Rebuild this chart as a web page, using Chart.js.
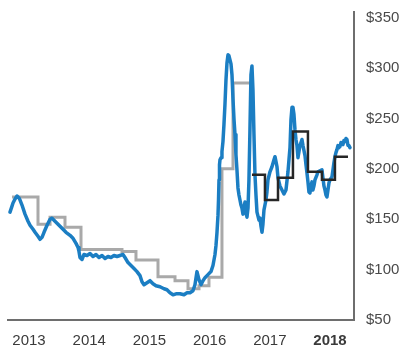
<!DOCTYPE html>
<html>
<head>
<meta charset="utf-8">
<script src="https://cdn.jsdelivr.net/npm/chart.js@4/dist/chart.umd.min.js"></script>
<style>
  html, body { margin: 0; padding: 0; background: #fff; }
  #wrap { width: 406px; height: 349px; position: relative; }
</style>
</head>
<body>
<div id="wrap"><canvas id="chart" width="406" height="349"></canvas></div>
<script>
// Time axis unit: months since January 2013. Year labels sit at mid-year.
const YEARS = ['2013', '2014', '2015', '2016', '2017', '2018'];
const YEAR_MID = [6, 18, 30, 42, 54, 66];
const PRICE_TICKS = [50, 100, 150, 200, 250, 300, 350];

// Spot price, US$/t
const spotMonth = [
  2.21, 2.61, 2.81, 3.21, 3.61, 4.01, 4.21, 4.60, 5.20, 5.80,
  6.20, 6.80, 7.20, 7.79, 8.19, 8.59, 8.99, 9.59, 10.19, 10.58,
  10.98, 11.58, 12.18, 12.78, 13.37, 14.17, 14.77, 15.37, 15.77, 15.96,
  16.16, 16.56, 16.96, 17.56, 18.16, 18.75, 19.35, 19.95, 20.55, 21.15,
  21.74, 22.34, 22.94, 23.54, 24.14, 24.73, 25.13, 25.73, 26.33, 26.93,
  27.52, 28.12, 28.52, 28.92, 29.52, 30.12, 30.71, 31.31, 32.11, 32.91,
  33.50, 34.10, 34.70, 35.30, 36.09, 36.89, 37.49, 38.09, 38.68, 39.08,
  39.48, 39.88, 40.28, 40.68, 41.08, 41.67, 42.27, 42.67, 43.07, 43.27,
  43.47, 43.67, 43.77, 43.87, 43.97, 44.07, 44.27, 44.46, 44.66, 44.86,
  45.06, 45.26, 45.46, 45.66, 45.86, 46.06, 46.26, 46.46, 46.66, 46.86,
  47.06, 47.25, 47.45, 47.65, 47.85, 48.05, 48.25, 48.45, 48.65, 48.85,
  49.05, 49.25, 49.45, 49.65, 49.84, 50.04, 50.24, 50.44, 50.64, 50.84,
  51.04, 51.24, 51.44, 51.64, 51.84, 52.04, 52.24, 52.44, 52.63, 52.83,
  53.23, 53.43, 53.63, 54.03, 54.43, 54.83, 55.03, 55.23, 55.43, 55.63,
  56.02, 56.42, 56.82, 57.22, 57.62, 57.82, 58.02, 58.22, 58.42, 58.61,
  58.81, 59.01, 59.21, 59.41, 59.61, 59.81, 60.01, 60.41, 60.61, 61.01,
  61.21, 61.40, 61.60, 61.80, 62.00, 62.20, 62.40, 62.60, 62.80, 63.00,
  63.40, 63.60, 63.99, 64.39, 64.59, 64.79, 64.99, 65.19, 65.39, 65.59,
  65.79, 65.99, 66.39, 66.59, 66.78, 66.98, 67.18, 67.38, 67.58, 67.78,
  67.98, 68.18, 68.38, 68.58, 68.78, 68.98, 69.18, 69.38, 69.58, 69.77,
  69.97
];
const spotPrice = [
  157, 163, 166, 170, 173, 171, 169, 164, 155, 148,
  144, 140, 137, 133, 130, 132, 137, 144, 150, 151,
  149, 146, 143, 140, 137, 134, 131, 126, 122, 118,
  112, 110, 115, 114, 116, 113, 115, 112, 114, 111,
  113, 112, 114, 113, 114, 115, 112, 107, 104, 101,
  98, 94, 88, 85, 87, 89, 86, 84, 83, 81,
  80, 77, 75, 76, 76, 75, 77, 77, 79, 85,
  98, 90, 85, 89, 92, 95, 98, 104, 115, 124,
  137, 154, 169, 189, 204, 209, 211, 217, 227, 244,
  264, 288, 305, 313, 312, 308, 304, 293, 269, 249,
  234, 214, 199, 181, 174, 169, 164, 161, 155, 162,
  167, 157, 152, 161, 189, 239, 293, 302, 278, 234,
  194, 174, 157, 153, 149, 151, 143, 137, 145, 159,
  169, 177, 189, 197, 202, 209, 212, 207, 202, 191,
  183, 179, 175, 179, 197, 209, 221, 249, 261, 261,
  254, 239, 229, 223, 211, 217, 223, 229, 223, 213,
  204, 196, 187, 177, 176, 183, 187, 179, 183, 189,
  194, 197, 198, 199, 191, 183, 179, 174, 172, 179,
  186, 189, 192, 199, 206, 212, 216, 219, 223, 221,
  222, 226, 225, 224, 228, 227, 230, 229, 223, 223,
  221
];

// Quarterly benchmark contract price (start month of each period, price)
const benchMonth = [2.61, 7.79, 10.19, 13.17, 16.36, 24.53, 27.32, 31.71, 35.10, 37.69, 39.88, 41.87, 44.46, 46.66, 50.04];
const benchPrice = [172, 145, 152, 142, 120, 118, 109.5, 93, 89, 81, 84, 92.5, 200, 285, 285];

// Quarterly index-linked contract price
const indexMonth = [50.44, 53.03, 55.63, 58.61, 61.60, 64.39, 66.98, 69.58];
const indexPrice = [194, 169, 191, 237, 197, 189, 212, 212];

const toPoints = (xs, ys) => xs.map((x, i) => ({ x: x, y: ys[i] }));

const FONT = "'Liberation Sans', Arial, Helvetica, sans-serif";

new Chart(document.getElementById('chart'), {
  type: 'line',
  data: {
    datasets: [
      {
        label: 'Index-linked contract',
        data: toPoints(indexMonth, indexPrice),
        stepped: true,
        borderColor: '#262626',
        borderWidth: 2.5,
        pointRadius: 0,
        fill: false,
        order: 0
      },
      {
        label: 'Spot',
        data: toPoints(spotMonth, spotPrice),
        borderColor: '#1b7ec3',
        borderWidth: 3.5,
        borderJoinStyle: 'round',
        borderCapStyle: 'round',
        pointRadius: 0,
        tension: 0,
        fill: false,
        order: 1
      },
      {
        label: 'Benchmark contract',
        data: toPoints(benchMonth, benchPrice),
        stepped: true,
        borderColor: '#a9a9a9',
        borderWidth: 3,
        pointRadius: 0,
        fill: false,
        order: 2
      }
    ]
  },
  options: {
    responsive: false,
    animation: false,
    events: [],
    layout: { padding: { left: 8, top: 12, right: 0, bottom: 0 } },
    plugins: { legend: { display: false }, tooltip: { enabled: false } },
    scales: {
      x: {
        type: 'linear',
        min: 1.81,
        max: 70.78,
        grid: { display: false, drawTicks: false },
        border: { display: true, color: '#6e6e6e', width: 2 },
        afterBuildTicks: (scale) => { scale.ticks = YEAR_MID.map(v => ({ value: v })); },
        afterFit: (scale) => {
          scale.height = 29;
          scale.paddingLeft = 0;
          scale.paddingRight = 0;
        },
        ticks: {
          autoSkip: false,
          maxRotation: 0,
          padding: 12,
          color: '#3a3a3a',
          font: (ctx) => ({
            family: FONT,
            size: 15,
            weight: (ctx.index === YEARS.length - 1) ? 'bold' : 'normal'
          }),
          callback: (value, index) => YEARS[index]
        }
      },
      y: {
        position: 'right',
        min: 50,
        max: 355.5,
        grid: { display: false, drawTicks: false },
        border: { display: true, color: '#6e6e6e', width: 2 },
        afterBuildTicks: (scale) => { scale.ticks = PRICE_TICKS.map(v => ({ value: v })); },
        afterFit: (scale) => {
          scale.width = 52;
          scale.paddingTop = 0;
          scale.paddingBottom = 0;
        },
        ticks: {
          padding: 12,
          color: '#4a4a4a',
          font: { family: FONT, size: 15 },
          callback: (value) => '$' + value
        }
      }
    }
  }
});
</script>
</body>
</html>
